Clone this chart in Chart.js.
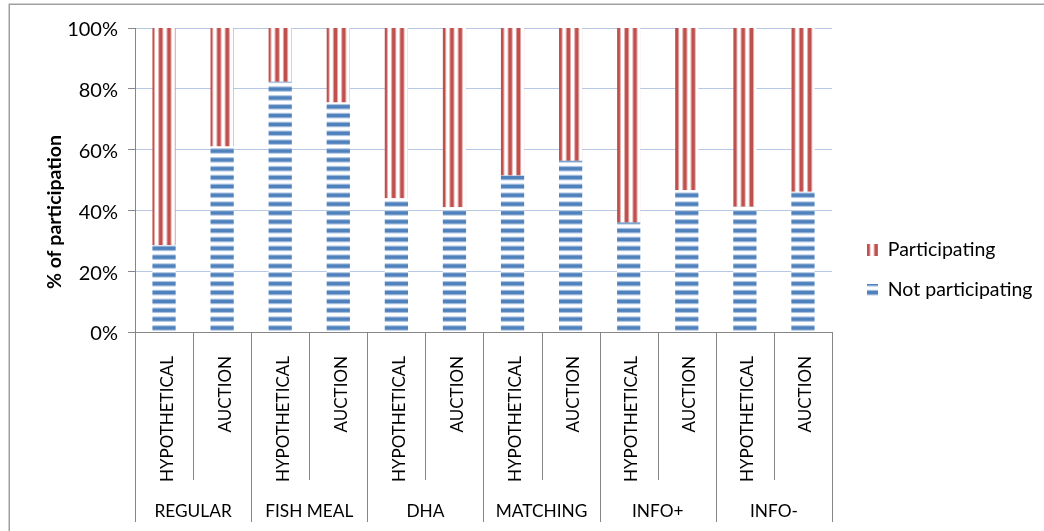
<!DOCTYPE html>
<html>
<head>
<meta charset="utf-8">
<script src="https://cdn.jsdelivr.net/npm/chart.js@4.4.1/dist/chart.umd.min.js"></script>
<style>
  html, body { margin: 0; padding: 0; background: #fff; }
  #wrap { position: relative; width: 1044px; height: 531px; }
</style>
</head>
<body>
<div id="wrap"><canvas id="c" width="1044" height="531"></canvas></div>
<script>
// Treatments (outer level) and elicitation formats (inner level)
const groups = ['REGULAR', 'FISH MEAL', 'DHA', 'MATCHING', 'INFO+', 'INFO-'];
const formats = ['HYPOTHETICAL', 'AUCTION'];

// Share of respondents (%) per treatment/format, in the order of the categories
const notParticipating = [28.5, 61.0, 82.3, 75.5, 44.0, 41.0, 51.5, 56.3, 36.0, 46.6, 41.2, 46.1];
const participating    = [71.5, 39.0, 17.7, 24.5, 56.0, 59.0, 48.5, 43.7, 64.0, 53.4, 58.8, 53.9];

// Value axis ticks
const yTicks = [0, 20, 40, 60, 80, 100];

const categories = groups.flatMap(() => formats);

const FONT = 'Lato';
const TEXT = '#000000';
const AXIS_GREY = '#868686';
const GRID_BLUE = '#B7C8E6';

const canvas = document.getElementById('c');
const ctx = canvas.getContext('2d');

// Striped fills: 8px tile, one soft-edged stripe, stretched a little
function stripes(vertical, dark, edge, gap, scale, shift) {
  const tile = document.createElement('canvas');
  tile.width = 8; tile.height = 8;
  const t = tile.getContext('2d');
  t.fillStyle = gap; t.fillRect(0, 0, 8, 8);
  [edge, dark, dark, dark, edge].forEach((col, i) => {
    t.fillStyle = col;
    if (vertical) t.fillRect(i, 0, 1, 8); else t.fillRect(0, i, 8, 1);
  });
  const p = ctx.createPattern(tile, 'repeat');
  const m = new DOMMatrix();
  if (vertical) m.translateSelf(shift, 0); else m.translateSelf(0, shift);
  m.scaleSelf(scale, scale);
  p.setTransform(m);
  return p;
}
const redFill = stripes(true, '#C0504D', '#E3A9A7', '#FFFFFF', 1.04, 0);
const blueFill = stripes(false, '#4F81BD', '#A9C1E0', '#FFFFFF', 1.106, -2.2);

const legendFont = { family: FONT, size: 19.5 };
const LEGEND_PAD = 20.5;
const LEGEND_BOX = 11;
const LEGEND_LEFT = 846.5;   // left edge of the legend block
const PLOT_RIGHT = 832;

// Right padding so the legend column starts at LEGEND_LEFT
function rightPad() {
  const m = document.createElement('canvas').getContext('2d');
  m.font = legendFont.size + 'px ' + FONT;
  const w = Math.max(...['Participating', 'Not participating'].map(s => m.measureText(s).width));
  const legendWidth = LEGEND_PAD + LEGEND_BOX + legendFont.size / 2 + w + 10;
  return Math.max(0, 1044 - LEGEND_LEFT - legendWidth);
}

const decor = {
  id: 'decor',
  beforeDraw(chart) {
    const c = chart.ctx;
    c.save();
    c.strokeStyle = '#A0A0A0';
    c.lineWidth = 1.5;
    c.strokeRect(9.25, 4.25, 1100, 600);
    c.restore();
  },
  afterDraw(chart) {
    const c = chart.ctx;
    const xs = chart.scales.x;
    const area = chart.chartArea;
    const half = (xs.getPixelForValue(1) - xs.getPixelForValue(0)) / 2;
    c.save();
    // category separators below the axis
    c.strokeStyle = AXIS_GREY;
    c.lineWidth = 1;
    for (let i = 0; i <= categories.length; i++) {
      const x = Math.round(xs.getPixelForValue(i) - half) + 0.5;
      const bottom = (i % formats.length === 0) ? 522 : 480;
      c.beginPath();
      c.moveTo(x, area.bottom);
      c.lineTo(x, bottom);
      c.stroke();
    }
    // treatment names
    c.fillStyle = TEXT;
    c.font = '17.3px ' + FONT;
    c.textAlign = 'center';
    c.textBaseline = 'middle';
    groups.forEach((g, gi) => {
      const a = xs.getPixelForValue(gi * formats.length);
      const b = xs.getPixelForValue(gi * formats.length + formats.length - 1);
      c.fillText(g, (a + b) / 2, 511);
    });
    // value axis title
    c.translate(55, 212);
    c.rotate(-Math.PI / 2);
    c.font = 'bold 19.5px ' + FONT;
    c.fillText('% of participation', 0, 0);
    c.restore();
  }
};

new Chart(ctx, {
  type: 'bar',
  data: {
    labels: categories,
    datasets: [
      { label: 'Not participating', data: notParticipating, backgroundColor: blueFill,
        borderWidth: 0, barPercentage: 0.4, categoryPercentage: 1, yAxisID: 'y' },
      { label: 'Participating', data: participating, backgroundColor: redFill,
        borderWidth: 0, barPercentage: 0.4, categoryPercentage: 1, yAxisID: 'y' }
    ]
  },
  options: {
    responsive: false,
    animation: false,
    devicePixelRatio: 1,
    layout: { padding: { left: 0, top: 9, bottom: 0, right: rightPad() } },
    scales: {
      x: {
        stacked: true,
        grid: { display: false },
        border: { display: true, color: AXIS_GREY, width: 1 },
        ticks: { minRotation: 90, maxRotation: 90, autoSkip: false, padding: 16, labelOffset: 3,
                 font: { family: FONT, size: 17 }, color: TEXT },
        afterFit(s) { s.height = 199; }
      },
      y: {
        stacked: true,
        min: 0, max: 100,
        afterBuildTicks(s) { s.ticks = yTicks.map(v => ({ value: v })); },
        ticks: { callback: v => v + '%', padding: 10, labelOffset: 2,
                 font: { family: FONT, size: 20 }, color: TEXT },
        grid: {
          color: c => (c.tick && c.tick.value === 0) ? AXIS_GREY : GRID_BLUE,
          lineWidth: 1,
          tickColor: AXIS_GREY,
          tickLength: 7
        },
        border: { color: AXIS_GREY, width: 1 },
        afterFit(s) { s.width = 135; s.paddingTop = 28; }
      },
      gap: {
        type: 'linear',
        position: 'right',
        grid: { display: false },
        border: { display: false },
        ticks: { display: false },
        afterFit(s) { s.width = LEGEND_LEFT - PLOT_RIGHT; }
      }
    },
    plugins: {
      legend: {
        position: 'right',
        reverse: true,
        maxWidth: 300,
        labels: { boxWidth: LEGEND_BOX, boxHeight: 12, padding: LEGEND_PAD, font: legendFont, color: TEXT }
      },
      tooltip: { enabled: false }
    }
  },
  plugins: [decor]
});
</script>
</body>
</html>
